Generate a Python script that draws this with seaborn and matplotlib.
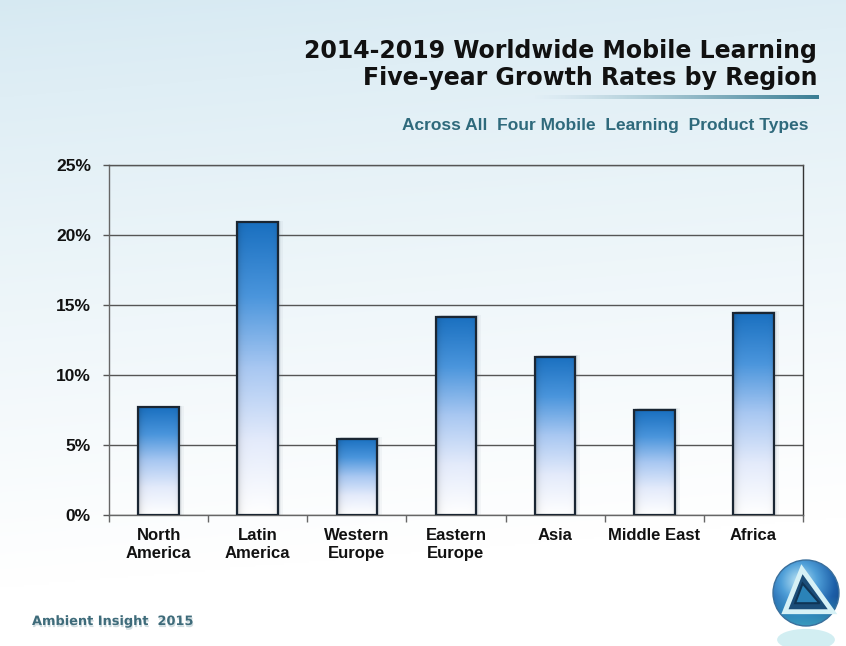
import numpy as np
import matplotlib
matplotlib.use("Agg")
import matplotlib.pyplot as plt
import matplotlib.patheffects as pe
import seaborn as sns
from matplotlib.patches import Rectangle, Circle, Polygon, Ellipse
from matplotlib.colors import LinearSegmentedColormap

# data
regions = ["North\nAmerica", "Latin\nAmerica", "Western\nEurope", "Eastern\nEurope",
           "Asia", "Middle East", "Africa"]
growth = [7.7, 20.9, 5.45, 14.15, 11.3, 7.5, 14.45]
y_ticks = [0, 5, 10, 15, 20, 25]

title_1 = "2014-2019 Worldwide Mobile Learning"
title_2 = "Five-year Growth Rates by Region"
subtitle = "Across All  Four Mobile  Learning  Product Types"
footer = "Ambient Insight  2015"

sns.set_theme(style="white")
plt.rcParams['font.family'] = ['Liberation Sans', 'DejaVu Sans']

W, H = 846, 646
fig = plt.figure(figsize=(W / 100, H / 100), dpi=100)


def px(x0, y0, w, h):
    """pixel box (top-left origin) -> figure fraction rect"""
    return [x0 / W, 1 - (y0 + h) / H, w / W, h / H]


# page background: pale blue fading to white
bg = fig.add_axes([0, 0, 1, 1], zorder=-10)
yy, xx = np.mgrid[0:1:300j, 0:1:300j]
t = np.clip(yy * 1.1 + xx * 0.12, 0, 1) ** 0.85
top_c = np.array([0.84, 0.915, 0.95])
img = top_c[None, None, :] * (1 - t[..., None]) + np.ones(3)[None, None, :] * t[..., None]
bg.imshow(img, extent=[0, 1, 0, 1], aspect='auto', origin='upper')
bg.axis('off')

# main chart
ax = fig.add_axes(px(109, 165, 694, 350))
ax.patch.set_alpha(0)
sns.barplot(x=regions, y=growth, ax=ax, width=0.41, color="#1f77c8",
            edgecolor="#1a2633", linewidth=1.6, zorder=3)

bar_cmap = LinearSegmentedColormap.from_list(
    "bar", [(0, "#1a70c0"), (0.25, "#4a95dc"), (0.5, "#a9c8f2"),
            (0.75, "#e4ebfb"), (1.0, "#ffffff")])
v = np.linspace(0, 1, 200)[:, None]
u = np.linspace(0, 1, 60)[None, :]
grad = bar_cmap(np.repeat(v, 60, axis=1))[..., :3]
shade = 1 - 0.22 * np.exp(-u / 0.07) - 0.10 * np.exp(-(1 - u) / 0.05)
grad = grad * shade[..., None]

for p in list(ax.patches):
    x0, y0 = p.get_x(), p.get_y()
    w, h = p.get_width(), p.get_height()
    # soft shadow on the right
    for k, a in [(0.05, 0.06), (0.03, 0.08), (0.015, 0.10)]:
        ax.add_patch(Rectangle((x0 + k, y0), w, h + 0.12, color="#6a7a88",
                               alpha=a, lw=0, zorder=2))
    p.set_facecolor("none")
    p.set_zorder(4)
    im = ax.imshow(grad, extent=[x0, x0 + w, y0, y0 + h], aspect='auto',
                   origin='upper', zorder=3.5)
    im.set_clip_path(p)

ax.set_xlim(-0.5, 6.5)
ax.set_ylim(0, 25)
ax.set_yticks(y_ticks)
ax.set_yticklabels([f"{v}%" for v in y_ticks], fontsize=12.5, fontweight='bold')
ax.set_xticks(range(len(regions)))
ax.set_xticklabels(regions, fontsize=12, fontweight='bold', linespacing=1.3)
ax.set_xticks(np.arange(-0.5, 7, 1), minor=True)
ax.tick_params(axis='x', which='major', length=0, pad=9, colors="#111111")
ax.tick_params(axis='x', which='minor', bottom=True, length=5, width=1,
               color="#666666", direction='out')
ax.tick_params(axis='y', left=True, length=4, width=1, color="#555555",
               pad=9, colors="#111111")
ax.yaxis.grid(True, color="#555555", lw=1)
ax.xaxis.grid(False)
ax.set_axisbelow(True)
for side, col in [("left", "#666666"), ("bottom", "#666666"),
                  ("right", "#333333"), ("top", "#555555")]:
    ax.spines[side].set_visible(True)
    ax.spines[side].set_color(col)
    ax.spines[side].set_linewidth(1)
ax.set_xlabel("")
ax.set_ylabel("")

# titles
fig.text(817 / W, 1 - 58 / H, title_1, ha='right', va='baseline', fontsize=17,
         fontweight='bold', family='DejaVu Sans', color="#111111")
fig.text(817 / W, 1 - 85 / H, title_2, ha='right', va='baseline', fontsize=17,
         fontweight='bold', family='DejaVu Sans', color="#111111")

# gradient rule under the title
rule = fig.add_axes(px(530, 95, 289, 4))
ramp = np.linspace(0, 1, 300)
rule_img = np.zeros((1, 300, 4))
rule_img[..., 0] = 0.22
rule_img[..., 1] = 0.49
rule_img[..., 2] = 0.58
rule_img[..., 3] = ramp ** 1.3
rule.imshow(rule_img, extent=[0, 1, 0, 1], aspect='auto')
rule.axis('off')

fig.text(808 / W, 1 - 130 / H, subtitle, ha='right', va='baseline', fontsize=12.5,
         fontweight='bold', color="#2f6a7c")

# footer with a soft shadow
fig.text(32 / W, 1 - 625 / H, footer, ha='left', va='baseline', fontsize=9.3,
         fontweight='bold', family='DejaVu Sans', color="#3e6b7a",
         path_effects=[pe.withSimplePatchShadow(offset=(0.5, -1.5),
                                                shadow_rgbFace="#9fb8c0", alpha=0.5)])

# logo
logo = fig.add_axes(px(772, 559, 68, 68))
logo.set_xlim(-1, 1)
logo.set_ylim(-1, 1)
logo.axis('off')
ly, lx = np.mgrid[1:-1:200j, -1:1:200j]
r = np.sqrt((lx + 0.2) ** 2 + (ly - 0.35) ** 2)
orb_cmap = LinearSegmentedColormap.from_list(
    "orb", ["#bfe6f5", "#4f9fd8", "#1d5fa8", "#143f7a"])
orb = orb_cmap(np.clip(r / 1.6, 0, 1))
low = np.clip((-ly - 0.1) * 1.2, 0, 1)
orb[..., :3] = orb[..., :3] * (1 - low[..., None] * 0.6) + np.array([0.3, 0.78, 0.85]) * low[..., None] * 0.6
circ = Circle((0, 0), 0.97, transform=logo.transData, fc="none", ec="#3a6f9c", lw=1)
logo.add_patch(circ)
oim = logo.imshow(orb, extent=[-1, 1, -1, 1], aspect='auto')
oim.set_clip_path(circ)
logo.add_patch(Polygon([(-0.12, 0.7), (-0.62, -0.55), (0.78, -0.55)], closed=True,
                       fc="#1b4d78", ec="#d6f1f6", lw=3.5, joinstyle='miter'))
logo.add_patch(Polygon([(-0.1, 0.28), (-0.32, -0.3), (0.4, -0.3)], closed=True,
                       fc="#2b83b8", ec="#0f3556", lw=1.5))
refl = fig.add_axes(px(772, 628, 68, 18))
refl.set_xlim(-1, 1)
refl.set_ylim(-1, 1)
refl.axis('off')
refl.add_patch(Ellipse((0, -0.3), 1.7, 2.4, fc="#7fd0dc", alpha=0.35, lw=0))

fig.savefig("out.png", dpi=100)
